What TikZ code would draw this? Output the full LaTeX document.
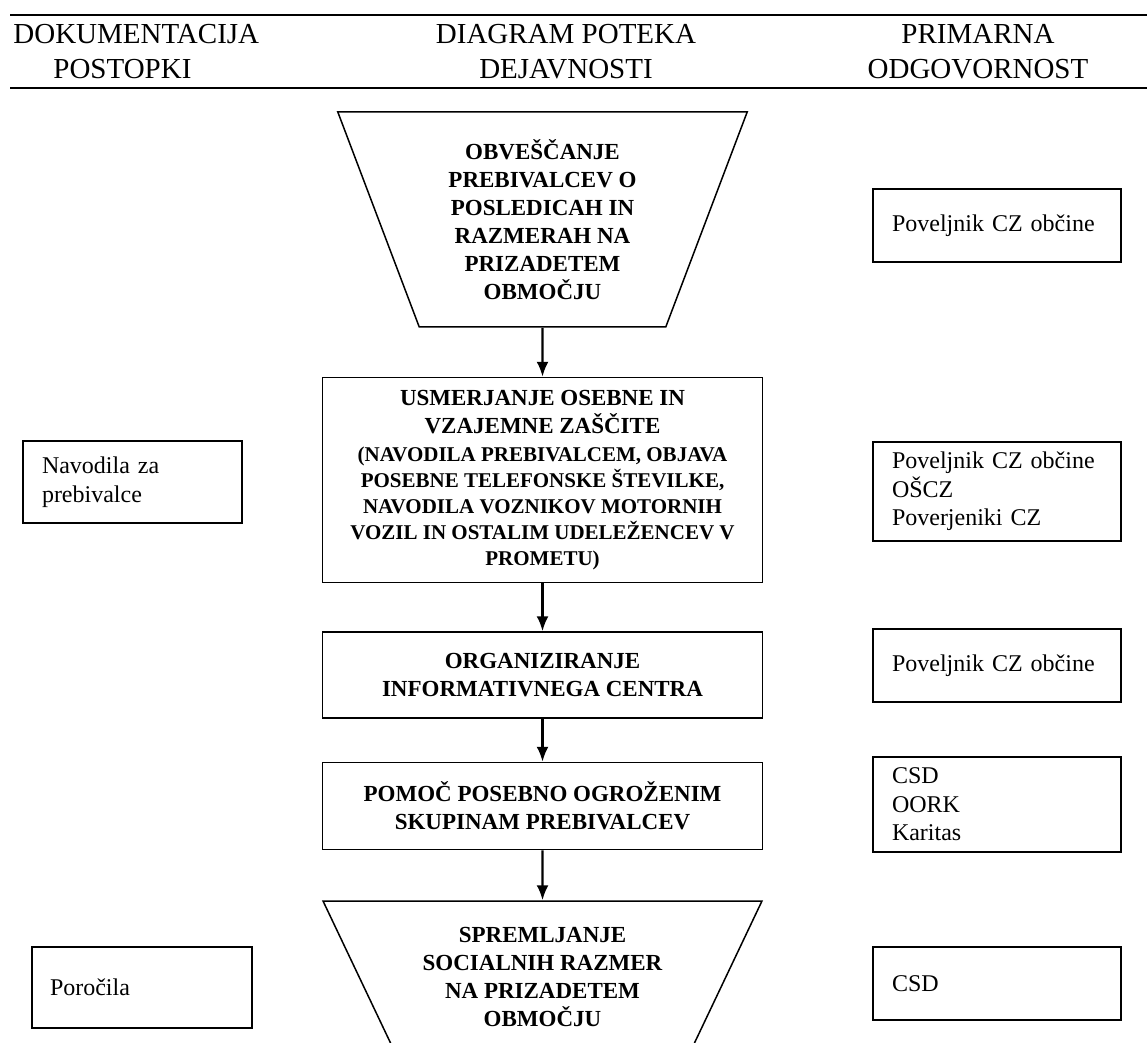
\documentclass[tikz,border=0pt]{standalone}
\usepackage{fontspec}
\setmainfont{Liberation Serif}
\usetikzlibrary{arrows,arrows.meta}
\usetikzlibrary{positioning,shapes}
\newcommand{\smalltxt}{\fontsize{10.5}{13}\selectfont}

\begin{document}
\begin{tikzpicture}[%
        x=0.5pt, y=-0.5pt,
        every node/.style={inner sep=0pt},
        head/.style={font=\fontsize{14.5}{17.5}\selectfont},
        act/.style={draw, line width=0.75pt, align=center, minimum width=220pt,
          font=\bfseries\fontsize{11.5}{14}\selectfont},
        trap/.style={act, trapezium, shape border rotate=180, trapezium stretches=true},
        doc/.style={draw, line width=0.75pt, align=left, inner xsep=9.5pt,
          font=\fontsize{12}{14.25}\selectfont},
        node distance=24pt, >={Latex[length=7.5pt,width=6pt]}
      ]
      \useasboundingbox (0,0) rectangle (1147,1043);
      % header
      \draw [line width=1.1pt] (10,15) -- (1147,15) (10,88) -- (1147,88);
      \node [head, align=left, anchor=west] (h0) at (13,51.5) {DOKUMENTACIJA\\\hspace*{20pt}POSTOPKI};
      \node [head, align=center] (h1) at (566,51.5) {DIAGRAM POTEKA\\DEJAVNOSTI};
      \node [head, align=center] (h2) at (978,51.5) {PRIMARNA\\ODGOVORNOST};
      % potek dejavnosti
      \node [] (0) [trap, trapezium angle=68.8, minimum width=205pt, minimum height=107.5pt] at (542.5,219.5)
        {OBVEŠČANJE\\PREBIVALCEV O\\POSLEDICAH IN\\RAZMERAH NA\\PRIZADETEM\\OBMOČJU};
      \node [] (1) [act, below=24.5pt of 0, minimum height=102.5pt]
        {USMERJANJE OSEBNE IN\\VZAJEMNE ZAŠČITE\\\smalltxt(NAVODILA PREBIVALCEM, OBJAVA\\[-1pt]\smalltxt POSEBNE TELEFONSKE ŠTEVILKE,\\[-1pt]\smalltxt NAVODILA VOZNIKOV MOTORNIH\\[-1pt]\smalltxt VOZIL IN OSTALIM UDELEŽENCEV V\\[-1pt]\smalltxt PROMETU)};
      \node [] (2) [act, below=of 1, minimum height=43pt] {ORGANIZIRANJE\\INFORMATIVNEGA CENTRA};
      \node [] (3) [act, below=21.5pt of 2, minimum height=43.5pt] {POMOČ POSEBNO OGROŽENIM\\SKUPINAM PREBIVALCEV};
      \node [] (4) [trap, trapezium angle=59.4, minimum height=76pt, below=25pt of 3]
        {SPREMLJANJE\\SOCIALNIH RAZMER\\NA PRIZADETEM\\OBMOČJU};
      \path [draw, line width=1.2pt] (0) edge[->] (1)
      (1) edge[->] (2)
      (2) edge[->] (3)
      (3) edge[->] (4);
      % dokumentacija
      \node [] (d0) [doc, text width=90.5pt, minimum height=41pt] at (132.5,482) {Navodila za\\prebivalce};
      \node [] (d1) [doc, text width=92pt, inner xsep=9pt, minimum height=40.5pt] at (142,987.5) {Poročila};
      % odgovornost
      \node [] (o0) [doc, text width=105pt, minimum height=36.5pt] at (997,225.5) {Poveljnik CZ občine};
      \node [] (o1) [doc, text width=105pt, minimum height=49.5pt] at (997,491.5) {Poveljnik CZ občine\\OŠCZ\\Poverjeniki CZ};
      \node [] (o2) [doc, text width=105pt, minimum height=36.5pt] at (997,665.5) {Poveljnik CZ občine};
      \node [] (o3) [doc, text width=105pt, minimum height=47.5pt] at (997,804.5) {CSD\\OORK\\Karitas};
      \node [] (o4) [doc, text width=105pt, minimum height=36.5pt] at (997,983.5) {CSD};
    \end{tikzpicture}
\end{document}
